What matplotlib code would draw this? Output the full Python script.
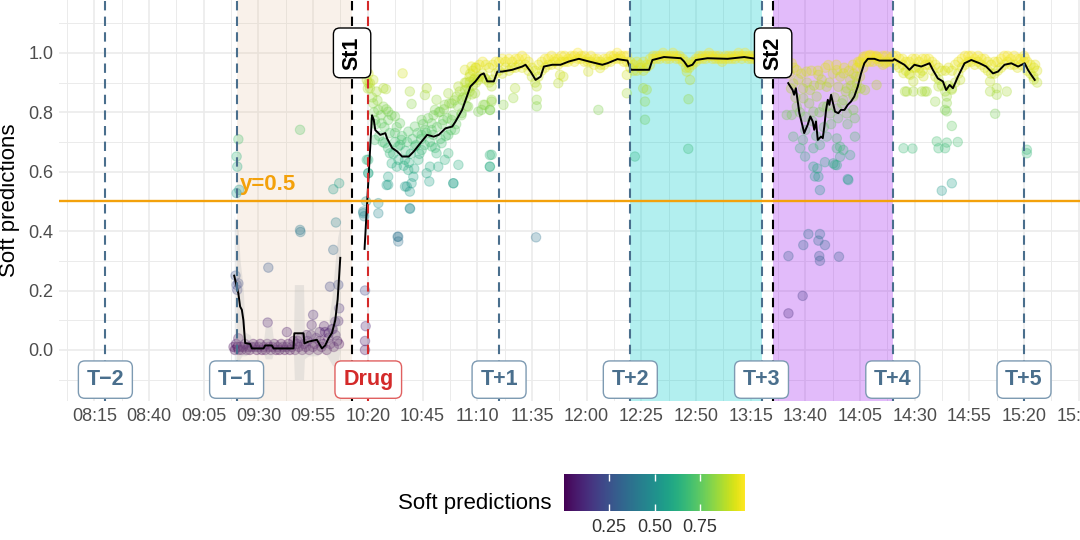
import matplotlib
matplotlib.use("Agg")
import matplotlib.pyplot as plt
import matplotlib.ticker as ticker
from matplotlib.colors import Normalize
from matplotlib.cm import ScalarMappable

plt.rcParams["font.family"] = ["Liberation Sans", "DejaVu Sans"]

# time axis: minutes after 08:00
START_MIN = 8 * 60

# ---- rolling line (three recording segments) ----
line1_t = [78.9, 80.8, 81.6, 82.4, 83.1, 83.9, 86.2, 87.0, 92.3, 93.1, 96.1, 96.9,
           106.0, 106.4, 110.6, 111.0, 112.9, 116.7, 119.0, 120.5, 122.1, 123.6,
           125.1, 126.2, 127.4]
line1_p = [0.25, 0.19, 0.146, 0.135, 0.10, 0.023, 0.02, 0.005, 0.005, 0.015, 0.015, 0.005,
           0.005, 0.056, 0.056, 0.022, 0.028, 0.034, 0.005, 0.015, 0.04, 0.057,
           0.10, 0.17, 0.31]
# spread around the first segment (grey ribbon)
line1_lo = [-0.05, -0.05, -0.03, -0.02, -0.02, -0.02, -0.01, -0.01, -0.01, -0.03, -0.03, -0.01,
            -0.01, -0.10, -0.10, -0.03, -0.02, -0.02, -0.01, -0.01, -0.03, -0.05,
            -0.06, -0.05, 0.0]
line1_hi = [0.45, 0.40, 0.30, 0.25, 0.20, 0.06, 0.05, 0.03, 0.03, 0.08, 0.08, 0.03,
            0.03, 0.22, 0.22, 0.06, 0.07, 0.08, 0.03, 0.04, 0.10, 0.18,
            0.30, 0.38, 0.42]

line2_t = [138.5, 141.9, 142.7, 143.4, 145.7, 148.0, 148.8, 151.1, 153.4, 155.7, 158.7,
           161.0, 164.0, 167.1, 170.1, 172.4, 175.5, 178.6, 180.1, 183.1, 186.9, 189.2,
           191.5, 193.0, 194.6, 197.6, 199.2, 201.4, 206.0, 210.6, 212.1, 214.4, 216.7,
           219.0, 220.5, 224.3, 228.1, 231.9, 236.5, 241.1, 247.2, 249.5, 254.1, 258.7,
           260.2, 268.6, 270.1, 275.4, 283.1, 284.6, 286.2, 288.4, 290.0, 295.3, 304.5,
           312.1, 317.4, 320.6]
line2_p = [0.34, 0.79, 0.775, 0.74, 0.724, 0.73, 0.712, 0.68, 0.668, 0.651, 0.651,
           0.668, 0.696, 0.724, 0.718, 0.724, 0.746, 0.752, 0.769, 0.808, 0.887, 0.904,
           0.926, 0.931, 0.904, 0.904, 0.937, 0.937, 0.943, 0.954, 0.96, 0.937, 0.909,
           0.92, 0.954, 0.96, 0.96, 0.971, 0.98, 0.971, 0.96, 0.965, 0.979, 0.974,
           0.943, 0.943, 0.976, 0.986, 0.982, 0.971, 0.954, 0.96, 0.976, 0.982, 0.98,
           0.986, 0.98, 0.975]

line3_t = [332.2, 334.2, 334.9, 335.7, 337.3, 338.8, 339.5, 341.1, 342.3, 343.4, 344.1,
           344.9, 345.7, 347.2, 348.0, 348.7, 349.5, 350.3, 351.0, 351.8, 352.5, 353.6,
           355.1, 356.3, 357.9, 359.4, 360.9, 362.4, 364.0, 365.5, 367.0, 368.6, 371.6,
           373.9, 380.0, 380.7, 385.3, 387.6, 389.9, 393.0, 396.8, 398.3, 400.6, 402.9,
           404.4, 406.0, 407.5, 409.8, 412.8, 415.9, 419.7, 422.7, 425.8, 428.1, 431.1,
           434.2, 437.3, 440.3, 441.8, 443.3, 444.9]
line3_p = [0.898, 0.875, 0.859, 0.881, 0.797, 0.752, 0.73, 0.758, 0.786, 0.769, 0.741,
           0.769, 0.707, 0.718, 0.713, 0.752, 0.808, 0.842, 0.825, 0.859, 0.836, 0.802,
           0.797, 0.808, 0.808, 0.825, 0.836, 0.853, 0.887, 0.931, 0.965, 0.98, 0.98,
           0.974, 0.974, 0.979, 0.96, 0.943, 0.96, 0.954, 0.965, 0.943, 0.914, 0.904,
           0.875, 0.892, 0.881, 0.92, 0.965, 0.976, 0.965, 0.954, 0.931, 0.937, 0.96,
           0.965, 0.954, 0.965, 0.943, 0.926, 0.909]

# ---- soft predictions (points) ----
pre_t = [78.6, 79.2, 79.8, 80.4, 81.0, 81.7, 82.3, 83.0, 83.8, 84.5, 85.3, 86.0, 86.8,
         87.6, 88.4, 89.2, 90.0, 90.8, 91.6, 92.4, 93.2, 94.0, 94.8, 95.6, 96.4, 97.2,
         98.0, 98.8, 99.6, 100.4, 101.2, 102.0, 102.8, 103.6, 104.4, 105.2, 106.0, 106.8,
         107.6, 108.4, 109.2, 110.0, 110.8, 111.6, 112.4, 113.2, 114.0, 114.8, 115.6,
         116.4, 117.2, 118.0, 118.8, 119.6, 120.4, 121.2, 122.0, 122.8, 123.6, 124.4,
         125.2, 126.0, 126.8]
pre_p = [0.01, 0.00, 0.02, 0.01, 0.00, 0.01, 0.00, 0.01, 0.02, 0.00, 0.01, 0.00, 0.01,
         0.02, 0.01, 0.00, 0.01, 0.02, 0.00, 0.01, 0.00, 0.02, 0.01, 0.00, 0.01, 0.02,
         0.00, 0.01, 0.00, 0.02, 0.01, 0.00, 0.01, 0.02, 0.00, 0.01, 0.03, 0.00,
         0.02, 0.01, 0.04, 0.00, 0.02, 0.01, 0.03, 0.00, 0.05, 0.01, 0.02,
         0.04, 0.00, 0.03, 0.01, 0.02, 0.06, 0.00, 0.04, 0.02, 0.07, 0.01,
         0.05, 0.03, 0.02]

pre_out_t = [80.8, 80.0, 80.3, 80.0, 81.2, 109.0, 124.2, 126.9, 109.0, 109.2, 125.4, 124.2,
             94.5, 80.0, 80.3, 122.7, 126.5, 94.2, 115.0, 114.3, 126.5, 79.5, 80.8, 80.8,
             122.1, 125.1, 126.9, 124.0, 118.0, 103.0, 108.0, 120.0, 112.0]
pre_out_p = [0.709, 0.651, 0.617, 0.528, 0.539, 0.741, 0.541, 0.561, 0.404, 0.397, 0.429, 0.337,
             0.277, 0.219, 0.202, 0.213, 0.219, 0.092, 0.118, 0.084, 0.097, 0.25, 0.224, 0.039,
             0.056, 0.095, 0.14, 0.07, 0.06, 0.06, 0.03, 0.08, 0.05]

drug_t = [137.9, 138.3, 138.7, 139.0, 138.7, 138.7, 139.5, 140.2, 141.0, 139.5, 140.3, 140.0,
          139.2]
drug_p = [0.46, 0.45, 0.20, 0.08, 0.03, 0.00, 0.64, 0.595, 0.898, 0.909, 0.93, 0.88, 0.50]

cloud_t = [140.2, 141.0, 142.5, 144.0, 148.3, 155.9, 159.2, 160.0, 142.5, 144.8, 147.1, 149.3,
           143.2, 146.3, 149.3, 152.4, 154.7, 158.5, 161.5, 164.6, 166.1, 166.9, 170.7, 171.4,
           173.0, 175.2, 176.8, 178.3, 180.6, 181.4, 182.9, 184.4, 184.4, 186.7, 187.4, 189.0,
           190.5, 193.5, 195.8, 196.6, 192.0, 195.8, 195.8, 143.2, 147.8, 150.1, 150.9, 153.2,
           157.0, 158.5, 160.8, 160.0, 149.3, 148.6, 157.0, 159.2, 166.9, 168.4, 172.2, 171.4,
           175.2, 176.8, 179.1, 181.4, 173.7, 169.2, 164.6, 163.1, 153.9, 140.2, 140.2, 137.9,
           144.8, 144.8, 159.2, 153.9, 152.4, 166.1, 169.2, 174.5, 178.3, 179.8, 182.9, 185.9,
           189.0, 190.5, 164.6, 169.9, 176.8, 155.4, 161.5, 153.6, 153.9, 147.1, 149.3, 157.8,
           159.3, 168.1, 179.1]
cloud_p = [0.898, 0.881, 0.909, 0.87, 0.878, 0.931, 0.87, 0.828, 0.83, 0.808, 0.819, 0.802,
           0.774, 0.763, 0.774, 0.786, 0.763, 0.735, 0.752, 0.774, 0.858, 0.881, 0.808, 0.842,
           0.802, 0.825, 0.864, 0.83, 0.853, 0.887, 0.842, 0.875, 0.943, 0.903, 0.954, 0.915,
           0.802, 0.825, 0.808, 0.836, 0.808, 0.656, 0.617, 0.707, 0.696, 0.662, 0.628, 0.617,
           0.64, 0.606, 0.583, 0.561, 0.583, 0.555, 0.55, 0.533, 0.595, 0.617, 0.617, 0.662,
           0.64, 0.662, 0.561, 0.623, 0.696, 0.685, 0.673, 0.64, 0.685, 0.64, 0.595, 0.466,
           0.494, 0.46, 0.477, 0.381, 0.73, 0.741, 0.763, 0.774, 0.774, 0.741, 0.797, 0.819,
           0.864, 0.909, 0.724, 0.724, 0.724, 0.707, 0.685, 0.381, 0.365, 0.881, 0.556, 0.55,
           0.475, 0.567, 0.561]

cloud2_t = [142.0, 142.8, 143.6, 144.4, 145.2, 146.0, 146.8, 147.6, 148.4, 149.2, 150.0, 150.8,
            151.6, 152.4, 153.2, 154.0, 154.8, 155.6, 156.4, 157.2, 158.0, 158.8, 159.6, 160.4,
            161.2, 162.0, 162.8, 163.6, 164.4, 165.2, 166.0, 166.8, 167.6, 168.4, 169.2, 170.0,
            170.8, 171.6, 172.4, 173.2, 174.0, 174.8, 175.6, 176.4, 177.2, 178.0, 178.8, 179.6,
            180.4, 181.2, 182.0, 182.8, 183.6, 184.4, 185.2, 186.0, 186.8, 187.6, 188.4, 189.2]
cloud2_p = [0.85, 0.80, 0.76, 0.84, 0.72, 0.79, 0.70, 0.75, 0.81, 0.68, 0.73, 0.79,
            0.66, 0.70, 0.75, 0.64, 0.69, 0.72, 0.62, 0.67, 0.70, 0.63, 0.66, 0.71,
            0.61, 0.69, 0.73, 0.66, 0.71, 0.76, 0.69, 0.73, 0.78, 0.70, 0.74, 0.79,
            0.68, 0.75, 0.80, 0.71, 0.76, 0.81, 0.72, 0.78, 0.83, 0.74, 0.79, 0.84,
            0.76, 0.82, 0.87, 0.79, 0.85, 0.90, 0.82, 0.88, 0.93, 0.86, 0.91, 0.95]

band_t = [185, 186.5, 188, 189.5, 191, 192.5, 194, 195.5, 197, 198.5, 200, 201.5, 203, 204.5,
          206, 207.5, 209, 210.5, 212, 213.5, 215, 216.5, 218, 219.5, 221, 222.5, 224, 225.5,
          227, 228.5, 230, 231.5, 233, 234.5, 236, 237.5, 239, 240.5, 242, 243.5, 245, 246.5,
          248, 249.5, 251, 252.5, 254, 255.5, 257, 258.5, 260, 261.5, 263, 264.5, 266, 267.5,
          269, 270.5, 272, 273.5, 275, 276.5, 278, 279.5, 281, 282.5, 284, 285.5, 287, 288.5,
          290, 291.5, 293, 294.5, 296, 297.5, 299, 300.5, 302, 303.5, 305, 306.5, 308, 309.5,
          311, 312.5, 314, 315.5, 317, 318.5, 320]
band_hi = [0.90, 0.92, 0.94, 0.95, 0.96, 0.97, 0.96, 0.95, 0.96, 0.97, 0.97, 0.98, 0.97, 0.98,
           0.97, 0.98, 0.98, 0.99, 0.98, 0.97, 0.95, 0.94, 0.96, 0.97, 0.98, 0.98, 0.99, 0.98,
           0.98, 0.99, 0.99, 0.98, 0.99, 0.99, 1.00, 0.99, 0.99, 0.98, 0.99, 0.98, 0.98, 0.97,
           0.98, 0.98, 0.99, 0.99, 1.00, 0.99, 0.99, 0.99, 0.97, 0.96, 0.97, 0.96, 0.97, 0.96,
           0.98, 0.99, 0.99, 0.99, 1.00, 0.99, 0.99, 1.00, 0.99, 0.99, 0.98, 0.97, 0.96, 0.97,
           0.98, 0.99, 0.99, 0.99, 1.00, 0.99, 0.99, 0.99, 0.98, 0.99, 0.99, 0.99, 0.99, 1.00,
           0.99, 1.00, 0.99, 0.99, 0.99, 0.98, 0.98]
band_lo = [0.85, 0.87, 0.89, 0.90, 0.92, 0.93, 0.91, 0.90, 0.91, 0.93, 0.94, 0.93, 0.95, 0.94,
           0.95, 0.95, 0.96, 0.95, 0.96, 0.94, 0.92, 0.90, 0.92, 0.94, 0.95, 0.96, 0.96, 0.97,
           0.96, 0.97, 0.97, 0.97, 0.98, 0.97, 0.98, 0.98, 0.97, 0.97, 0.97, 0.96, 0.97, 0.96,
           0.96, 0.97, 0.97, 0.98, 0.98, 0.98, 0.97, 0.97, 0.95, 0.94, 0.94, 0.95, 0.94, 0.95,
           0.96, 0.98, 0.98, 0.98, 0.99, 0.98, 0.98, 0.99, 0.98, 0.98, 0.97, 0.95, 0.95, 0.96,
           0.97, 0.98, 0.98, 0.98, 0.99, 0.98, 0.98, 0.98, 0.97, 0.98, 0.98, 0.98, 0.98, 0.99,
           0.98, 0.99, 0.98, 0.98, 0.98, 0.97, 0.97]

band_out_t = [193.6, 196.6, 192.8, 195.9, 196.6, 202.0, 206.5, 207.3, 217.2, 217.2, 217.2,
              227.1, 227.9, 240.8, 245.4, 246.2, 258.4, 258.4, 266.7, 266.7, 267.5, 285.8,
              287.3, 286.6, 216.9, 262.1, 265.9, 286.5, 196.6, 195.8, 229.4]
band_out_p = [0.915, 0.887, 0.825, 0.808, 0.842, 0.825, 0.848, 0.881, 0.842, 0.82, 0.887,
              0.898, 0.926, 0.937, 0.808, 0.949, 0.864, 0.926, 0.836, 0.775, 0.876, 0.937,
              0.909, 0.844, 0.379, 0.651, 0.881, 0.677, 0.657, 0.617, 0.92]

band2_t = [362, 363.5, 365, 366.5, 368, 369.5, 371, 372.5, 374, 375.5, 377, 378.5, 380, 381.5,
           383, 384.5, 386, 387.5, 389, 390.5, 392, 393.5, 395, 396.5, 398, 399.5, 401, 402.5,
           404, 405.5, 407, 408.5, 410, 411.5, 413, 414.5, 416, 417.5, 419, 420.5, 422, 423.5,
           425, 426.5, 428, 429.5, 431, 432.5, 434, 435.5, 437, 438.5, 440, 441.5, 443, 444.5,
           446]
band2_hi = [0.93, 0.95, 0.97, 0.98, 0.99, 0.99, 0.99, 0.99, 0.98, 0.99, 0.99, 0.98, 0.99, 0.99,
            0.98, 0.98, 0.97, 0.97, 0.98, 0.98, 0.97, 0.98, 0.98, 0.98, 0.97, 0.96, 0.95, 0.94,
            0.94, 0.95, 0.94, 0.96, 0.97, 0.98, 0.99, 0.99, 0.99, 0.98, 0.99, 0.98, 0.98, 0.97,
            0.96, 0.97, 0.97, 0.98, 0.99, 0.99, 0.98, 0.99, 0.98, 0.98, 0.99, 0.97, 0.96, 0.95,
            0.94]
band2_lo = [0.86, 0.88, 0.92, 0.95, 0.97, 0.97, 0.97, 0.98, 0.97, 0.96, 0.97, 0.97, 0.97, 0.96,
            0.95, 0.96, 0.94, 0.93, 0.95, 0.95, 0.95, 0.94, 0.96, 0.96, 0.94, 0.92, 0.91, 0.89,
            0.87, 0.89, 0.88, 0.90, 0.93, 0.95, 0.96, 0.97, 0.97, 0.96, 0.97, 0.96, 0.95, 0.94,
            0.93, 0.93, 0.94, 0.95, 0.96, 0.97, 0.96, 0.96, 0.95, 0.96, 0.97, 0.94, 0.93, 0.91,
            0.90]

st2_t = [333.8, 336.1, 340.6, 346.0, 350.5, 354.4, 357.4, 360.5, 365.0, 366.6, 369.6, 372.6,
         372.6, 376.5, 367.3, 363.5, 334.5, 336.1, 333.8, 331.5, 339.1, 342.2, 345.2, 346.7,
         349.8, 355.1, 359.0, 362.0, 357.4, 354.4, 351.3, 348.3, 343.7, 339.9, 359.0, 362.0,
         334.5, 337.6, 339.9, 343.7, 338.9, 346.7, 349.8, 354.4, 355.9, 352.8, 354.4, 360.5,
         362.7, 343.7, 346.0, 346.7, 359.7, 355.9, 357.4, 341.4, 346.7, 339.1, 346.0, 349.0,
         346.4, 346.7, 332.3, 355.4, 338.8, 332.3, 344.4, 345.5, 349.0, 353.6, 354.4, 359.4]
st2_p = [0.965, 0.942, 0.937, 0.926, 0.959, 0.942, 0.931, 0.909, 0.965, 0.987, 0.993, 0.987,
         0.892, 0.965, 0.875, 0.897, 0.897, 0.819, 0.791, 0.791, 0.847, 0.875, 0.853, 0.892,
         0.886, 0.886, 0.881, 0.853, 0.841, 0.813, 0.796, 0.819, 0.802, 0.785, 0.796, 0.808,
         0.718, 0.679, 0.651, 0.679, 0.707, 0.69, 0.718, 0.712, 0.684, 0.628, 0.622, 0.656,
         0.718, 0.617, 0.583, 0.538, 0.572, 0.65, 0.673, 0.39, 0.39, 0.353, 0.368, 0.353,
         0.316, 0.30, 0.316, 0.314, 0.182, 0.123, 0.584, 0.611, 0.632, 0.623, 0.679, 0.575]

st2b_t = [332.8, 333.5, 334.8, 335.5, 336.8, 337.5, 338.2, 339.0, 340.0, 340.8, 341.8, 342.8,
          343.2, 344.0, 345.0, 345.8, 346.5, 347.5, 348.5, 349.2, 350.0, 351.0, 351.8, 352.6,
          353.4, 354.2, 355.0, 356.0, 356.8, 357.8, 358.5, 359.3, 360.0, 361.0, 361.8, 362.6,
          363.3, 364.2, 365.3]
st2b_p = [0.93, 0.88, 0.95, 0.85, 0.91, 0.80, 0.93, 0.88, 0.74, 0.90, 0.83, 0.94,
          0.77, 0.89, 0.72, 0.94, 0.80, 0.91, 0.75, 0.95, 0.82, 0.90, 0.76, 0.93,
          0.85, 0.96, 0.78, 0.92, 0.83, 0.95, 0.87, 0.76, 0.94, 0.89, 0.96, 0.78,
          0.92, 0.97, 0.88]

late_t = [384.9, 387.9, 389.4, 392.5, 394.0, 386.4, 389.4, 393.3, 395.5, 399.4, 400.9, 404.7,
          404.7, 403.9, 404.7, 407.0, 400.1, 404.7, 409.7, 400.9, 403.9, 384.9, 389.0, 402.4,
          407.0, 407.0, 410.8, 424.5, 424.5, 427.5, 427.5, 432.1, 426.8, 441.3, 441.3, 444.3,
          445.1, 440.5, 394.7, 385.6]
late_p = [0.932, 0.926, 0.904, 0.932, 0.921, 0.87, 0.87, 0.87, 0.87, 0.836, 0.887, 0.853,
          0.831, 0.808, 0.803, 0.754, 0.702, 0.698, 0.70, 0.679, 0.679, 0.679, 0.678, 0.536,
          0.561, 0.876, 0.909, 0.904, 0.87, 0.881, 0.859, 0.87, 0.795, 0.674, 0.662, 0.92,
          0.96, 0.982, 0.87, 0.87]

# ---- annotations ----
tp_times = [20, 80, 200, 260, 320, 380, 440]
tp_labels = ["T\u22122", "T\u22121", "T+1", "T+2", "T+3", "T+4", "T+5"]
drug_time = 140.2
st_times = [132.8, 325.3]
st_labels = ["St1", "St2"]
shade_start = [80, 260, 325.3]
shade_end = [132.8, 320.4, 380.3]
shade_colors = ["#E6C3A0", "#00CDCD", "#A020F0"]
shade_alpha = [0.22, 0.3, 0.3]

BLUE = "#4A6F8D"
RED = "#D42A2A"
ORANGE = "#F3A10B"


@ticker.FuncFormatter
def clock_formatter(x, pos):
    total = int(round(START_MIN + x))
    return f"{total // 60:02d}:{total % 60:02d}"


fig = plt.figure(figsize=(10.8, 5.4), dpi=100)
ax = fig.add_axes([59 / 1080, 1 - 401 / 540, 1 - 59 / 1080, 401 / 540])

norm = Normalize(vmin=0.0, vmax=1.0)
cmap = plt.get_cmap("viridis")

for s0, s1, col, a in zip(shade_start, shade_end, shade_colors, shade_alpha):
    ax.axvspan(s0, s1, color=col, alpha=a, lw=0, zorder=1)

point_sets = [(pre_t, pre_p), (pre_out_t, pre_out_p), (drug_t, drug_p), (cloud_t, cloud_p),
              (cloud2_t, cloud2_p), (band_t, band_hi), (band_t, band_lo),
              (band_out_t, band_out_p), (band2_t, band2_hi), (band2_t, band2_lo),
              (st2_t, st2_p), (st2b_t, st2b_p), (late_t, late_p)]
for t, p in point_sets:
    ax.scatter(t, p, c=p, cmap=cmap, norm=norm, s=46, alpha=0.28,
               edgecolors="face", linewidths=0.8, zorder=2)

ax.fill_between(line1_t, line1_lo, line1_hi, color="#BDBDBD", alpha=0.3, lw=0, zorder=2.5)

for t, p in [(line1_t, line1_p), (line2_t, line2_p), (line3_t, line3_p)]:
    ax.plot(t, p, color="black", lw=1.4, zorder=3)

ax.axhline(0.5, color=ORANGE, lw=1.7, zorder=3.5)
ax.text(81.5, 0.556, "y=0.5", color=ORANGE, fontsize=16, fontweight="bold",
        ha="left", va="center", zorder=5)

for t in tp_times:
    ax.axvline(t, color=BLUE, lw=1.5, dashes=(4.5, 3), zorder=4)
ax.axvline(drug_time, color=RED, lw=1.5, dashes=(4.5, 3), zorder=4)
for t in st_times:
    ax.axvline(t, color="black", lw=1.5, dashes=(4.5, 3), zorder=4)

box_kw = dict(boxstyle="round,pad=0.38,rounding_size=0.3", facecolor="white", lw=1.0)
for t, lab in zip(tp_times, tp_labels):
    ax.text(t, -0.1, lab, color=BLUE, fontsize=15.5, fontweight="bold", ha="center",
            va="center", zorder=6, bbox=dict(edgecolor="#7D9AB2", **box_kw))
ax.text(drug_time, -0.1, "Drug", color=RED, fontsize=15.5, fontweight="bold", ha="center",
        va="center", zorder=6, bbox=dict(edgecolor="#E06060", **box_kw))
for t, lab in zip(st_times, st_labels):
    ax.text(t, 1.0, lab, color="black", fontsize=15.5, fontweight="bold", rotation=90,
            ha="center", va="center", zorder=6, bbox=dict(edgecolor="black", **box_kw))

ax.set_xlim(-1.2, 465.6)
ax.set_ylim(-0.172, 1.178)
ax.xaxis.set_major_locator(ticker.FixedLocator([15 + 25 * i for i in range(19)]))
ax.xaxis.set_minor_locator(ticker.FixedLocator([2.5 + 25 * i for i in range(19)]))
ax.xaxis.set_major_formatter(clock_formatter)
ax.yaxis.set_major_locator(ticker.MultipleLocator(0.2))
ax.yaxis.set_minor_locator(ticker.FixedLocator([-0.1, 0.1, 0.3, 0.5, 0.7, 0.9, 1.1]))
ax.yaxis.set_major_formatter(ticker.FormatStrFormatter("%.1f"))

ax.set_axisbelow(True)
ax.grid(which="major", color="#EBEBEB", lw=1.2)
ax.grid(which="minor", color="#EBEBEB", lw=0.7)
for sp in ax.spines.values():
    sp.set_visible(False)
ax.tick_params(which="both", length=0)
ax.tick_params(axis="x", labelsize=13, labelcolor="#4D4D4D", pad=5)
ax.tick_params(axis="y", labelsize=13, labelcolor="#4D4D4D", pad=4)
ax.set_ylabel("Soft predictions", fontsize=16, labelpad=6)

# colour bar legend
cax = fig.add_axes([564 / 1080, 1 - 511 / 540, 181 / 1080, 37 / 540])
cbar = fig.colorbar(ScalarMappable(norm=norm, cmap=cmap), cax=cax, orientation="horizontal")
cbar.set_ticks([0.25, 0.5, 0.75])
cbar.set_ticklabels(["0.25", "0.50", "0.75"])
cbar.outline.set_visible(False)
cax.tick_params(direction="in", length=5, width=1, color="white", top=True, bottom=True,
                labelsize=13, labelcolor="#333333", pad=6)
fig.text(552 / 1080, 1 - 503 / 540, "Soft predictions", fontsize=16, ha="right", va="center")

fig.savefig("out.png", dpi=100)
